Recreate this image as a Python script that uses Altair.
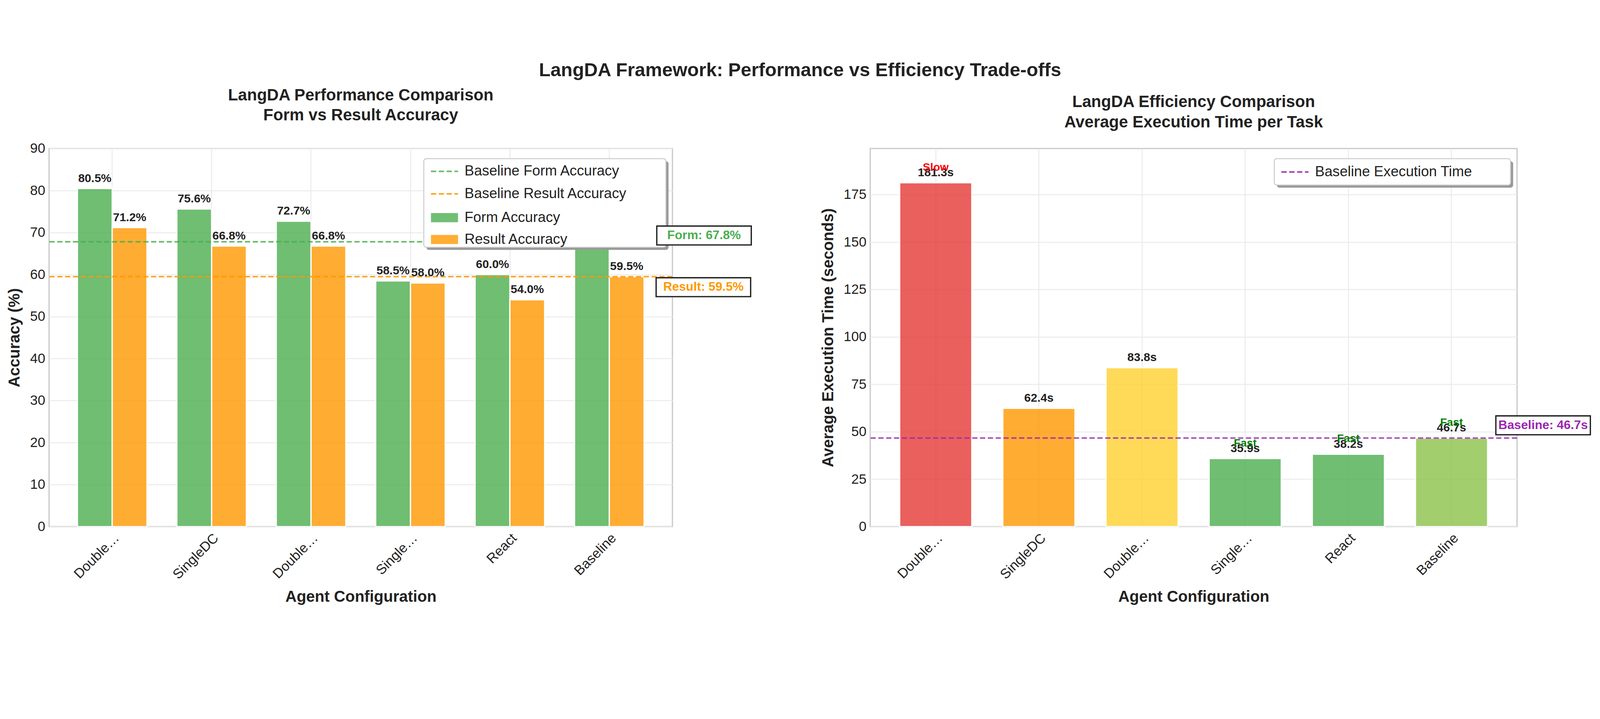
import altair as alt
import pandas as pd

configs = ['DoubleDC', 'SingleDC', 'DoubleSimple', 'SingleSimple', 'React', 'Baseline']
form_acc = [80.5, 75.6, 72.7, 58.5, 60.0, 67.8]
result_acc = [71.2, 66.8, 66.8, 58.0, 54.0, 59.5]
exec_time = [181.3, 62.4, 83.8, 35.9, 38.2, 46.7]
speed_tag = ['Slow', '', '', 'Fast', 'Fast', 'Fast']
time_colors = ['#E53935', '#FF9800', '#FFD230', '#4CAF50', '#4CAF50', '#8BC34A']
baseline_form = 67.8
baseline_result = 59.5
baseline_time = 46.7

FONT = 'Liberation Sans'
LW, RW, H = 1913, 1985, 1160
one = pd.DataFrame({'a': [0]})


def x_enc(title):
    return alt.X('config:N', sort=configs, title=title,
                 scale=alt.Scale(paddingInner=0.3, paddingOuter=0.285),
                 axis=alt.Axis(labelAngle=-45, labelAlign='right', labelBaseline='top',
                               grid=True, bandPosition=0.5, ticks=False, labelPadding=14,
                               titlePadding=24))


def legend(entries, x0, x1, y0, y1):
    """Hand-drawn matplotlib-like legend box; entries = (kind, color, label, y)."""
    layers = [
        alt.Chart(one).mark_rect(fill='#999999', cornerRadius=8).encode(
            x=alt.value(x0 + 8), x2=alt.value(x1 + 8), y=alt.value(y0 + 8), y2=alt.value(y1 + 8)),
        alt.Chart(one).mark_rect(fill='white', stroke='#cccccc', strokeWidth=3, cornerRadius=8).encode(
            x=alt.value(x0), x2=alt.value(x1), y=alt.value(y0), y2=alt.value(y1)),
    ]
    for kind, color, label, y in entries:
        if kind == 'line':
            layers.append(alt.Chart(one).mark_rule(color=color, strokeWidth=5, strokeDash=[16, 8], opacity=0.85).encode(
                x=alt.value(x0 + 22), x2=alt.value(x0 + 105), y=alt.value(y)))
        else:
            layers.append(alt.Chart(one).mark_rect(fill=color, opacity=0.8).encode(
                x=alt.value(x0 + 22), x2=alt.value(x0 + 105), y=alt.value(y - 14), y2=alt.value(y + 14)))
        layers.append(alt.Chart(one).mark_text(align='left', baseline='middle', fontSize=44, font=FONT,
                                               color='#222222').encode(
            x=alt.value(x0 + 125), y=alt.value(y), text=alt.value(label)))
    return layers


def note_box(df, xpix, color):
    box = alt.Chart(df).mark_point(
        shape='M-1,-0.2L1,-0.2L1,0.2L-1,0.2Z', filled=True, fill='white', stroke='#222222',
        strokeWidth=4, opacity=1, size=290 ** 2).encode(x=alt.value(xpix), y='v:Q')
    txt = alt.Chart(df).mark_text(fontSize=38, fontWeight='bold', font=FONT, color=color).encode(
        x=alt.value(xpix), y='v:Q', text='t:N')
    return [box, txt]


# ---- left panel: accuracy ----
acc = pd.DataFrame({
    'config': configs * 2,
    'metric': ['Form Accuracy'] * 6 + ['Result Accuracy'] * 6,
    'value': form_acc + result_acc,
})
acc['label'] = acc['value'].map(lambda v: f'{v:.1f}%')
# the Baseline form label sits hidden behind the legend in the original
acc_lab = acc[~((acc['config'] == 'Baseline') & (acc['metric'] == 'Form Accuracy'))]

yacc = alt.Y('value:Q', title='Accuracy (%)',
             scale=alt.Scale(domain=[0, 90], nice=False),
             axis=alt.Axis(values=list(range(0, 91, 10)), titlePadding=22, ticks=False, labelPadding=12))
xo = alt.XOffset('metric:N', sort=['Form Accuracy', 'Result Accuracy'])

acc_bars = alt.Chart(acc).mark_bar(opacity=0.8, stroke='white', strokeWidth=4).encode(
    x=x_enc('Agent Configuration'), xOffset=xo, y=yacc,
    color=alt.Color('metric:N', scale=alt.Scale(domain=['Form Accuracy', 'Result Accuracy'],
                                                range=['#4CAF50', '#FF9800']), legend=None))
acc_text = alt.Chart(acc_lab).mark_text(
    baseline='bottom', dy=-12, fontSize=36, fontWeight='bold', font=FONT, color='#222222').encode(
    x=alt.X('config:N', sort=configs), xOffset=xo, y='value:Q', text='label:N')

base_lines = pd.DataFrame({'v': [baseline_form, baseline_result], 'c': ['form', 'result']})
acc_rules = alt.Chart(base_lines).mark_rule(strokeWidth=5, strokeDash=[16, 8], opacity=0.85).encode(
    y='v:Q', color=alt.Color('c:N', scale=alt.Scale(domain=['form', 'result'], range=['#4CAF50', '#FF9800']),
                             legend=None))

left = alt.layer(
    acc_bars, acc_rules, acc_text,
    *legend([('line', '#4CAF50', 'Baseline Form Accuracy', 70),
             ('line', '#FF9800', 'Baseline Result Accuracy', 139),
             ('rect', '#4CAF50', 'Form Accuracy', 212),
             ('rect', '#FF9800', 'Result Accuracy', 279)], 1150, 1893, 31, 303),
    *note_box(pd.DataFrame({'v': [69.3], 't': [f'Form: {baseline_form}%']}), LW + 97, '#4CAF50'),
    *note_box(pd.DataFrame({'v': [57.0], 't': [f'Result: {baseline_result}%']}), LW + 95, '#FF9800'),
).resolve_scale(color='independent').properties(
    width=LW, height=H,
    title=alt.Title(['LangDA Performance Comparison', 'Form vs Result Accuracy'], fontSize=50,
                    fontWeight='bold', font=FONT, lineHeight=62, offset=55, color='#222222'))

# ---- right panel: execution time ----
tm = pd.DataFrame({'config': configs, 'time': exec_time, 'tag': speed_tag})
tm['label'] = tm['time'].map(lambda v: f'{v:.1f}s')
ytm = alt.Y('time:Q', title='Average Execution Time (seconds)',
            scale=alt.Scale(domain=[0, 199.3], nice=False),
            axis=alt.Axis(values=list(range(0, 200, 25)), titlePadding=22, ticks=False, labelPadding=12))

tm_bars = alt.Chart(tm).mark_bar(opacity=0.8, stroke='white', strokeWidth=4).encode(
    x=x_enc('Agent Configuration'), y=ytm,
    color=alt.Color('config:N', scale=alt.Scale(domain=configs, range=time_colors), legend=None))
tm_text = alt.Chart(tm).mark_text(baseline='bottom', dy=-12, fontSize=36, fontWeight='bold', font=FONT,
                                  color='#222222').encode(
    x=alt.X('config:N', sort=configs), y='time:Q', text='label:N')
tm_tag = alt.Chart(tm[tm['tag'] != '']).mark_text(baseline='bottom', dy=-30, fontSize=34, fontWeight='bold',
                                                  font=FONT).encode(
    x=alt.X('config:N', sort=configs), y='time:Q', text='tag:N',
    color=alt.Color('tag:N', scale=alt.Scale(domain=['Slow', 'Fast'], range=['#FF0000', '#008000']), legend=None))
tm_rule = alt.Chart(pd.DataFrame({'v': [baseline_time]})).mark_rule(
    color='#9C27B0', strokeWidth=5, strokeDash=[16, 8], opacity=0.8).encode(y='v:Q')

right = alt.layer(
    tm_bars, tm_rule, tm_text, tm_tag,
    *legend([('line', '#9C27B0', 'Baseline Execution Time', 72)], RW - 745, RW - 20, 31, 112),
    *note_box(pd.DataFrame({'v': [53.4], 't': [f'Baseline: {baseline_time}s']}), RW + 80, '#9C27B0'),
).resolve_scale(color='independent').properties(
    width=RW, height=H,
    title=alt.Title(['LangDA Efficiency Comparison', 'Average Execution Time per Task'], fontSize=50,
                    fontWeight='bold', font=FONT, lineHeight=62, offset=55, color='#222222'))

chart = alt.hconcat(left, right, spacing=200).properties(
    background='white',
    padding={'left': 10, 'top': 10, 'right': 10, 'bottom': 10},
    title=alt.Title('LangDA Framework: Performance vs Efficiency Trade-offs', fontSize=58,
                    fontWeight='bold', font=FONT, anchor='middle', color='#222222', offset=20)
).configure_view(stroke='#cccccc', strokeWidth=4).configure_axis(
    labelFont=FONT, titleFont=FONT, labelFontSize=42, titleFontSize=48, titleFontWeight='bold',
    labelColor='#222222', titleColor='#222222', gridColor='#ebebeb', gridWidth=3, domain=False
)

chart.save('out.html', embed_options={'renderer': 'svg', 'actions': False})
